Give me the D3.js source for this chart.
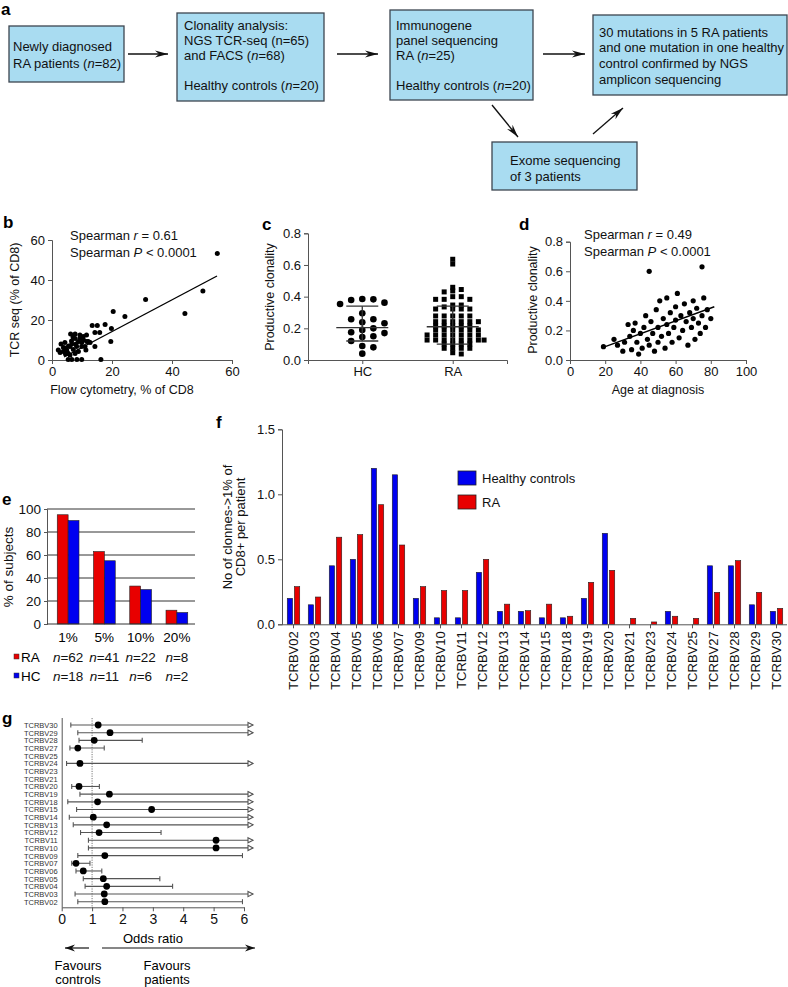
<!DOCTYPE html>
<html>
<head>
<meta charset="utf-8">
<script src="https://cdn.jsdelivr.net/npm/d3@7"></script>
<style>
  body { margin: 0; background: #fff; }
  svg { display: block; }
</style>
</head>
<body>
<svg id="fig" width="788" height="987"></svg>
<script>
// ---------- data ----------
// a: flow chart texts (*...* = italic)
const flowText = [
  ["Newly diagnosed", "RA patients (*n*=82)"],
  ["Clonality analysis:", "NGS TCR-seq (n=65)", "and FACS (*n*=68)", "", "Healthy controls (*n*=20)"],
  ["Immunogene", "panel sequencing", "RA (*n*=25)", "", "Healthy controls (*n*=20)"],
  ["30 mutations in 5 RA patients", "and one mutation in one healthy", "control confirmed by NGS", "amplicon sequencing"],
  ["Exome sequencing", "of 3 patients"]
];

// b: flow cytometry (% of CD8) vs TCR seq (% of CD8)
const bPoints = [
  [55.1, 53.3], [50.3, 34.5], [44.3, 23.3], [31.2, 30.3], [20.4, 24.2], [24.3, 21.7],
  [19.6, 9.2], [19.8, 15.8], [17.7, 17.8], [13.4, 17.2], [15.1, 17.2], [16.3, 0.3],
  [5.4, 0.3], [6.6, 0.3], [8.3, 0.3], [9.9, 0.3], [14.3, 13.8], [15.9, 13.8], [14.3, 6.7],
  [11.6, 9.2], [3.0, 8], [4.3, 8.7], [6.2, 13], [7.7, 13], [9.3, 12.5], [7.7, 10.8],
  [9.3, 10.8], [10.4, 11.7], [8.8, 9.2], [9.9, 8.7], [6, 6.7], [4.9, 5], [3.8, 4.2],
  [2.7, 3.7], [5.4, 3.3], [7.1, 5.3], [8.2, 6.7], [6.6, 8], [11, 6.7], [11.3, 5],
  [12.1, 9.2], [12.7, 8.7], [4.3, 6], [3.8, 6.3], [2.1, 5], [7.7, 3.3], [8.8, 4.2],
  [9.9, 6.7], [5.5, 7], [6.5, 9.5], [8, 8], [10.5, 10], [7, 11.5], [11.5, 12.5],
  [5, 4], [6, 2.5], [4.5, 3]
];
const bFitX = [4, 55];
const bFitY = [1.5, 42];
const bStats = ["Spearman *r* = 0.61", "Spearman *P* < 0.0001"];

// c: productive clonality, HC and RA
const cGroups = ["HC", "RA"];
const cHC = [0.383, 0.362, 0.354, 0.379, 0.385, 0.295, 0.257, 0.257, 0.238, 0.232,
  0.19, 0.2, 0.17, 0.175, 0.15, 0.145, 0.12, 0.088, 0.08, 0.04];
const cRA = [0.636, 0.606,
  0.459, 0.445, 0.436, 0.43,
  0.40, 0.40, 0.383, 0.383, 0.383,
  0.347, 0.347, 0.335,
  0.322, 0.322, 0.322, 0.322,
  0.278, 0.278, 0.278, 0.278, 0.278,
  0.242, 0.242, 0.242, 0.242, 0.242, 0.242,
  0.215, 0.215, 0.215, 0.215, 0.215,
  0.19, 0.19, 0.19, 0.19, 0.19, 0.19,
  0.158, 0.158, 0.158, 0.158, 0.158, 0.158, 0.158,
  0.126, 0.126, 0.126, 0.126, 0.126, 0.126, 0.126, 0.126,
  0.101, 0.101, 0.101, 0.101,
  0.074, 0.074, 0.074, 0.074,
  0.046, 0.038];
const cMean = [0.205, 0.21];
const cLow = [0.12, 0.10];
const cHigh = [0.34, 0.34];

// d: age at diagnosis vs productive clonality
const dPoints = [
  [19, 0.09], [25, 0.14], [27, 0.1], [30, 0.06], [31, 0.12], [33, 0.24], [34, 0.16], [35, 0.07],
  [36, 0.2], [37, 0.25], [38, 0.12], [39, 0.04], [40, 0.18], [41, 0.08], [42, 0.22], [43, 0.3],
  [44, 0.14], [45, 0.6], [45, 0.1], [46, 0.26], [47, 0.18], [48, 0.06], [49, 0.34], [50, 0.22],
  [50, 0.12], [51, 0.4], [52, 0.16], [53, 0.28], [54, 0.08], [55, 0.24], [55, 0.42], [56, 0.18],
  [57, 0.32], [58, 0.12], [59, 0.22], [60, 0.36], [60, 0.27], [61, 0.45], [62, 0.15], [63, 0.3],
  [64, 0.2], [65, 0.38], [66, 0.26], [67, 0.1], [68, 0.32], [69, 0.22], [70, 0.4], [70, 0.28],
  [71, 0.14], [72, 0.35], [73, 0.25], [74, 0.18], [75, 0.63], [75, 0.3], [76, 0.42], [77, 0.22],
  [78, 0.34], [80, 0.28]
];
const dFitX = [20, 82];
const dFitY = [0.09, 0.36];
const dStats = ["Spearman *r* = 0.49", "Spearman *P* < 0.0001"];

// e: % of subjects with clones above threshold
const eThresholds = ["1%", "5%", "10%", "20%"];
const eRA = [95, 63, 33, 12];
const eHC = [90, 55, 30, 10];
const eRAn = [62, 41, 22, 8];
const eHCn = [18, 11, 6, 2];

// f: clones >1% of CD8+ per patient
const fCats = ["TCRBV02", "TCRBV03", "TCRBV04", "TCRBV05", "TCRBV06", "TCRBV07", "TCRBV09",
  "TCRBV10", "TCRBV11", "TCRBV12", "TCRBV13", "TCRBV14", "TCRBV15", "TCRBV18", "TCRBV19",
  "TCRBV20", "TCRBV21", "TCRBV23", "TCRBV24", "TCRBV25", "TCRBV27", "TCRBV28", "TCRBV29", "TCRBV30"];
const fHC = [0.2, 0.15, 0.45, 0.5, 1.2, 1.15, 0.2, 0.05, 0.05, 0.4, 0.1, 0.1, 0.05, 0.05, 0.2,
  0.7, 0, 0, 0.1, 0, 0.45, 0.45, 0.15, 0.1];
const fRA = [0.29, 0.21, 0.67, 0.69, 0.92, 0.61, 0.29, 0.26, 0.26, 0.5, 0.155, 0.105, 0.155,
  0.062, 0.323, 0.415, 0.046, 0.018, 0.062, 0.046, 0.246, 0.49, 0.246, 0.123];

// g: odds ratios (null upper = open-ended arrow, null odds = not estimable)
const gCats = fCats.slice().reverse();
const gOdds = [1.2, 1.59, 1.07, 0.53, null, 0.6, null, null, 0.57, 1.57, 1.18, 2.96, 1.04,
  1.48, 1.23, 5.08, 5.08, 1.42, 0.47, 0.71, 1.37, 1.48, 1.4, 1.42];
const gLow = [0.3, 0.53, 0.57, 0.27, null, 0.16, null, null, 0.33, 0.6, 0.2, 0.49, 0.25,
  0.38, 0.62, 0.88, 0.88, 0.53, 0.33, 0.47, 0.71, 0.77, 0.44, 0.53];
const gHigh = [null, null, 2.65, 1.4, null, null, null, null, 1.24, null, null, null, null,
  null, 3.27, null, null, 5.95, 0.93, 1.32, 3.23, 3.65, null, 5.95];

// ---------- helpers ----------
const FONT = '"Liberation Sans", Arial, Helvetica, sans-serif';
const AXIS = "#555";
const RED = "#e80000";
const BLUE = "#0000f0";
const svg = d3.select("#fig").attr("font-family", FONT);

function rich(g, str, x, y, size) {
  const t = g.append("text").attr("x", x).attr("y", y).style("font-size", size + "px").attr("fill", "#111");
  str.split("*").forEach((s, i) => {
    if (s) t.append("tspan").text(s).style("font-style", i % 2 ? "italic" : null);
  });
  return t;
}

function styleAxis(g, size) {
  g.attr("font-family", FONT).attr("font-size", size);
  g.select(".domain").attr("stroke", AXIS);
  g.selectAll(".tick line").attr("stroke", AXIS);
  g.selectAll(".tick text").attr("fill", "#111");
}

function panelLabel(txt, x, y) {
  svg.append("text").text(txt).attr("x", x).attr("y", y)
    .style("font-size", "17px").style("font-weight", "bold");
}

function yTitle(g, txt, cx, cy, size) {
  g.append("text").text(txt)
    .attr("transform", `translate(${cx + size * 0.35},${cy}) rotate(-90)`)
    .attr("text-anchor", "middle").style("font-size", size + "px").attr("fill", "#111");
}

// simple dodge so dots at similar values sit side by side
function swarm(vals, y, cx, dx, dy) {
  const placed = [];
  vals.map(v => ({ v, y: y(v) })).sort((a, b) => b.v - a.v).forEach(p => {
    for (let k = 0; k < 200; k++) {
      const off = (k % 2 ? 1 : -1) * Math.ceil(k / 2) * dx * 0.5;
      const x = cx + off;
      if (!placed.some(q => Math.abs(q.x - x) < dx && Math.abs(q.y - p.y) < dy)) {
        placed.push({ v: p.v, x, y: p.y });
        break;
      }
    }
  });
  return placed;
}

const defs = svg.append("defs");
defs.append("marker").attr("id", "ah").attr("viewBox", "0 0 13 10")
  .attr("refX", 13).attr("refY", 5).attr("markerWidth", 13).attr("markerHeight", 10)
  .attr("markerUnits", "userSpaceOnUse").attr("orient", "auto")
  .append("path").attr("d", "M0,1.5 L13,5 L0,8.5 L4,5 Z").attr("fill", "#111");
defs.append("marker").attr("id", "ah2").attr("viewBox", "0 0 10 8")
  .attr("refX", 10).attr("refY", 4).attr("markerWidth", 10).attr("markerHeight", 8)
  .attr("markerUnits", "userSpaceOnUse").attr("orient", "auto")
  .append("path").attr("d", "M0,0.5 L10,4 L0,7.5 L3,4 Z").attr("fill", "#111");

// ---------- a ----------
panelLabel("a", 1, 15);
const boxes = [
  { x: 9, y: 26, w: 115, h: 56, tx: 13, ty: 51, lh: 17 },
  { x: 177, y: 13, w: 147, h: 88, tx: 184, ty: 29.5, lh: 15 },
  { x: 390, y: 10, w: 143, h: 90, tx: 396, ty: 29.5, lh: 15 },
  { x: 593, y: 15, w: 194, h: 80, tx: 599, ty: 36.5, lh: 15.7 },
  { x: 492, y: 142, w: 145, h: 48, tx: 510, ty: 164.5, lh: 16 }
];
const gA = svg.append("g");
boxes.forEach((b, i) => {
  gA.append("rect").attr("x", b.x).attr("y", b.y).attr("width", b.w).attr("height", b.h)
    .attr("fill", "#a9dcf1").attr("stroke", "#3c4650").attr("stroke-width", 1.3);
  flowText[i].forEach((line, j) => rich(gA, line, b.tx, b.ty + j * b.lh, 13));
});
const arrows = [[128, 54, 168, 54], [337, 54, 378, 54], [543, 54, 585, 54], [492, 105, 518, 137], [593, 134, 623, 108]];
arrows.forEach(a => gA.append("line").attr("x1", a[0]).attr("y1", a[1]).attr("x2", a[2]).attr("y2", a[3])
  .attr("stroke", "#111").attr("stroke-width", 1.3).attr("marker-end", "url(#ah)"));

// ---------- b ----------
panelLabel("b", 3, 228);
const gB = svg.append("g");
const xB = d3.scaleLinear().domain([0, 60]).range([52, 232]);
const yB = d3.scaleLinear().domain([0, 60]).range([360, 240]);
gB.append("g").attr("transform", "translate(0,360)")
  .call(d3.axisBottom(xB).tickValues([0, 20, 40, 60]).tickSize(4).tickPadding(3)).call(styleAxis, 13);
gB.append("g").attr("transform", "translate(52,0)")
  .call(d3.axisLeft(yB).tickValues([0, 20, 40, 60]).tickSize(4).tickPadding(3)).call(styleAxis, 13);
gB.selectAll("circle.pt").data(bPoints).join("circle").attr("class", "pt")
  .attr("cx", d => xB(d[0])).attr("cy", d => yB(d[1])).attr("r", 2.5).attr("fill", "#000");
gB.append("line").attr("x1", xB(bFitX[0])).attr("y1", yB(bFitY[0]))
  .attr("x2", xB(bFitX[1])).attr("y2", yB(bFitY[1])).attr("stroke", "#000").attr("stroke-width", 1.4);
bStats.forEach((s, i) => rich(gB, s, 70, 239.5 + i * 17, 13));
gB.append("text").text("Flow cytometry, % of CD8").attr("x", 122).attr("y", 394)
  .attr("text-anchor", "middle").style("font-size", "12.5px").attr("fill", "#111");
yTitle(gB, "TCR seq (% of CD8)", 15, 300, 12.5);

// ---------- c ----------
panelLabel("c", 262, 230);
const gC = svg.append("g");
const xC = d3.scalePoint().domain(cGroups).range([308, 507]).padding(0.6);
const yC = d3.scaleLinear().domain([0, 0.8]).range([360, 233.3]);
gC.append("g").attr("transform", "translate(0,360)")
  .call(d3.axisBottom(xC).tickSize(4).tickPadding(3)).call(styleAxis, 13);
gC.append("g").attr("transform", "translate(308,0)")
  .call(d3.axisLeft(yC).tickValues([0, 0.2, 0.4, 0.6, 0.8]).tickFormat(d3.format(".1f")).tickSize(4).tickPadding(3))
  .call(styleAxis, 13);
const hcSw = swarm(cHC, yC, xC("HC"), 7.4, 6.4);
gC.selectAll("circle.hc").data(hcSw).join("circle").attr("class", "hc")
  .attr("cx", d => d.x).attr("cy", d => d.y).attr("r", 3.3).attr("fill", "#000");
const raSw = swarm(cRA, yC, xC("RA"), 5.7, 3.6);
gC.selectAll("rect.ra").data(raSw).join("rect").attr("class", "ra")
  .attr("x", d => d.x - 2.5).attr("y", d => d.y - 2.5).attr("width", 5).attr("height", 5).attr("fill", "#000");
cGroups.forEach((grp, i) => {
  const cx = xC(grp);
  const eb = gC.append("g").attr("stroke", "#333").attr("stroke-width", 1.3);
  eb.append("line").attr("x1", cx - 26).attr("x2", cx + 26).attr("y1", yC(cMean[i])).attr("y2", yC(cMean[i]));
  eb.append("line").attr("x1", cx - 16).attr("x2", cx + 16).attr("y1", yC(cLow[i])).attr("y2", yC(cLow[i]));
  eb.append("line").attr("x1", cx - 16).attr("x2", cx + 16).attr("y1", yC(cHigh[i])).attr("y2", yC(cHigh[i]));
  eb.append("line").attr("x1", cx).attr("x2", cx).attr("y1", yC(cLow[i])).attr("y2", yC(cHigh[i]));
});
yTitle(gC, "Productive clonality", 270, 297, 12.5);

// ---------- d ----------
panelLabel("d", 519, 230);
const gD = svg.append("g");
const xD = d3.scaleLinear().domain([0, 100]).range([570, 746]);
const yD = d3.scaleLinear().domain([0, 0.8]).range([360, 241.7]);
gD.append("g").attr("transform", "translate(0,360)")
  .call(d3.axisBottom(xD).tickValues([0, 20, 40, 60, 80, 100]).tickSize(4).tickPadding(3)).call(styleAxis, 13);
gD.append("g").attr("transform", "translate(570,0)")
  .call(d3.axisLeft(yD).tickValues([0, 0.2, 0.4, 0.6, 0.8]).tickFormat(d3.format(".1f")).tickSize(4).tickPadding(3))
  .call(styleAxis, 13);
gD.selectAll("circle.pt").data(dPoints).join("circle").attr("class", "pt")
  .attr("cx", d => xD(d[0])).attr("cy", d => yD(d[1])).attr("r", 2.6).attr("fill", "#000");
gD.append("line").attr("x1", xD(dFitX[0])).attr("y1", yD(dFitY[0]))
  .attr("x2", xD(dFitX[1])).attr("y2", yD(dFitY[1])).attr("stroke", "#000").attr("stroke-width", 1.4);
dStats.forEach((s, i) => rich(gD, s, 584, 238.5 + i * 17, 13));
gD.append("text").text("Age at diagnosis").attr("x", 658).attr("y", 394)
  .attr("text-anchor", "middle").style("font-size", "12.5px").attr("fill", "#111");
yTitle(gD, "Productive clonality", 533, 300, 12.5);

// ---------- e ----------
panelLabel("e", 2, 505);
const gE = svg.append("g");
const x0E = d3.scaleBand().domain(eThresholds).range([50, 195]).paddingInner(0.4).paddingOuter(0.2);
const x1E = d3.scaleBand().domain(["RA", "HC"]).range([0, x0E.bandwidth()]);
const yE = d3.scaleLinear().domain([0, 100]).range([624, 509]);
gE.selectAll("line.grid").data([20, 40, 60, 80, 100]).join("line").attr("class", "grid")
  .attr("x1", 47).attr("x2", 195).attr("y1", d => yE(d)).attr("y2", d => yE(d))
  .attr("stroke", "#333").attr("stroke-width", 1);
eThresholds.forEach((t, i) => {
  [["RA", eRA[i], RED], ["HC", eHC[i], BLUE]].forEach(([k, v, c]) => {
    gE.append("rect").attr("x", x0E(t) + x1E(k)).attr("y", yE(v))
      .attr("width", x1E.bandwidth()).attr("height", yE(0) - yE(v))
      .attr("fill", c).attr("stroke", "#222").attr("stroke-width", 0.6);
  });
});
gE.append("g").attr("transform", "translate(47,0)")
  .call(d3.axisLeft(yE).tickValues([0, 20, 40, 60, 80, 100]).tickSize(3).tickPadding(3)).call(styleAxis, 13.5);
gE.append("line").attr("x1", 47).attr("x2", 195).attr("y1", yE(0)).attr("y2", yE(0)).attr("stroke", "#333");
eThresholds.forEach((t, i) => {
  const cx = x0E(t) + x0E.bandwidth() / 2;
  gE.append("text").text(t).attr("x", cx).attr("y", 642).attr("text-anchor", "middle").style("font-size", "13.5px");
  rich(gE, "*n*=" + eRAn[i], cx, 662, 13.5).attr("text-anchor", "middle");
  rich(gE, "*n*=" + eHCn[i], cx, 681, 13.5).attr("text-anchor", "middle");
});
gE.append("rect").attr("x", 14).attr("y", 654).attr("width", 5).attr("height", 5).attr("fill", RED).attr("stroke", "#333").attr("stroke-width", 0.5);
gE.append("rect").attr("x", 14).attr("y", 673).attr("width", 5).attr("height", 5).attr("fill", BLUE).attr("stroke", "#333").attr("stroke-width", 0.5);
gE.append("text").text("RA").attr("x", 21).attr("y", 662).style("font-size", "13.5px");
gE.append("text").text("HC").attr("x", 21).attr("y", 681).style("font-size", "13.5px");
yTitle(gE, "% of subjects", 8, 567, 13.5);

// ---------- f ----------
panelLabel("f", 216, 428);
const gF = svg.append("g");
const xF = d3.scaleBand().domain(fCats).range([283, 787]);
const x1F = d3.scaleBand().domain(["HC", "RA"]).range([0, xF.bandwidth()]).paddingInner(0.25).paddingOuter(0.6);
const yF = d3.scaleLinear().domain([0, 1.5]).range([624.3, 429.3]);
fCats.forEach((c, i) => {
  [["HC", fHC[i], BLUE], ["RA", fRA[i], RED]].forEach(([k, v, col]) => {
    if (v <= 0) return;
    gF.append("rect").attr("x", xF(c) + x1F(k)).attr("y", yF(v))
      .attr("width", x1F.bandwidth()).attr("height", yF(0) - yF(v))
      .attr("fill", col).attr("stroke", "#222").attr("stroke-width", 0.6);
  });
});
gF.append("g").attr("transform", "translate(282,0)")
  .call(d3.axisLeft(yF).tickValues([0, 0.5, 1, 1.5]).tickFormat(d3.format(".1f")).tickSize(4).tickPadding(3))
  .call(styleAxis, 13);
const xAxF = gF.append("g").attr("transform", "translate(0,624.3)")
  .call(d3.axisBottom(xF).tickSize(4).tickSizeOuter(0)).call(styleAxis, 13);
xAxF.select(".domain").attr("d", "M282,0.5H787");
xAxF.selectAll(".tick text").attr("text-anchor", "end")
  .attr("transform", "translate(4.5,7) rotate(-90)").attr("x", 0).attr("y", 0).attr("dy", null);
const legF = gF.append("g");
[["Healthy controls", BLUE], ["RA", RED]].forEach(([t, c], i) => {
  legF.append("rect").attr("x", 458).attr("y", 471 + i * 24).attr("width", 18).attr("height", 14)
    .attr("fill", c).attr("stroke", "#222").attr("stroke-width", 0.8);
  legF.append("text").text(t).attr("x", 482).attr("y", 482.5 + i * 24).style("font-size", "13px").attr("fill", "#111");
});
yTitle(gF, "No of clonnes->1% of", 227, 527, 13);
yTitle(gF, "CD8+ per patient", 240, 527, 13);

// ---------- g ----------
panelLabel("g", 2, 724);
const gG = svg.append("g");
const xG = d3.scaleLinear().domain([0, 6]).range([61.7, 244]);
const yG = d3.scalePoint().domain(gCats).range([725, 901.7]);
const yAxG = gG.append("g").attr("transform", "translate(61.7,0)")
  .call(d3.axisLeft(yG).tickSize(0).tickPadding(4)).call(styleAxis, 7.5);
yAxG.select(".domain").attr("d", "M0.5,718V907.3");
yAxG.selectAll(".tick text").attr("fill", "#333");
gG.append("g").attr("transform", "translate(0,907.3)")
  .call(d3.axisBottom(xG).ticks(6).tickSize(4).tickPadding(3).tickSizeOuter(0)).call(styleAxis, 14);
gG.append("line").attr("x1", xG(1)).attr("x2", xG(1)).attr("y1", 718).attr("y2", 907)
  .attr("stroke", "#777").attr("stroke-dasharray", "1.2,1.2");
const xEnd = xG.range()[1] + 9;
gCats.forEach((c, i) => {
  if (gOdds[i] == null) return;
  const y = yG(c);
  const x1 = xG(gLow[i]);
  const x2 = gHigh[i] == null ? xEnd : xG(gHigh[i]);
  const row = gG.append("g").attr("stroke", "#555").attr("stroke-width", 1.1);
  row.append("line").attr("x1", x1).attr("x2", x2).attr("y1", y).attr("y2", y);
  row.append("line").attr("x1", x1).attr("x2", x1).attr("y1", y - 2.5).attr("y2", y + 2.5);
  if (gHigh[i] == null) {
    row.append("path").attr("d", `M${x2 - 5},${y - 2.6}L${x2},${y}L${x2 - 5},${y + 2.6}Z`).attr("fill", "#fff");
  } else {
    row.append("line").attr("x1", x2).attr("x2", x2).attr("y1", y - 2.5).attr("y2", y + 2.5);
  }
  gG.append("circle").attr("cx", xG(gOdds[i])).attr("cy", y).attr("r", 3.4).attr("fill", "#000");
});
gG.append("text").text("Odds ratio").attr("x", 153).attr("y", 943).attr("text-anchor", "middle").style("font-size", "13px");
gG.append("line").attr("x1", 89).attr("x2", 65).attr("y1", 948).attr("y2", 948)
  .attr("stroke", "#111").attr("stroke-width", 1.2).attr("marker-end", "url(#ah2)");
gG.append("line").attr("x1", 102).attr("x2", 255).attr("y1", 948).attr("y2", 948)
  .attr("stroke", "#111").attr("stroke-width", 1.2).attr("marker-end", "url(#ah2)");
[["Favours", "controls", 78], ["Favours", "patients", 167]].forEach(([a, b, x]) => {
  gG.append("text").text(a).attr("x", x).attr("y", 970).attr("text-anchor", "middle").style("font-size", "13px");
  gG.append("text").text(b).attr("x", x).attr("y", 984).attr("text-anchor", "middle").style("font-size", "13px");
});
</script>
</body>
</html>
